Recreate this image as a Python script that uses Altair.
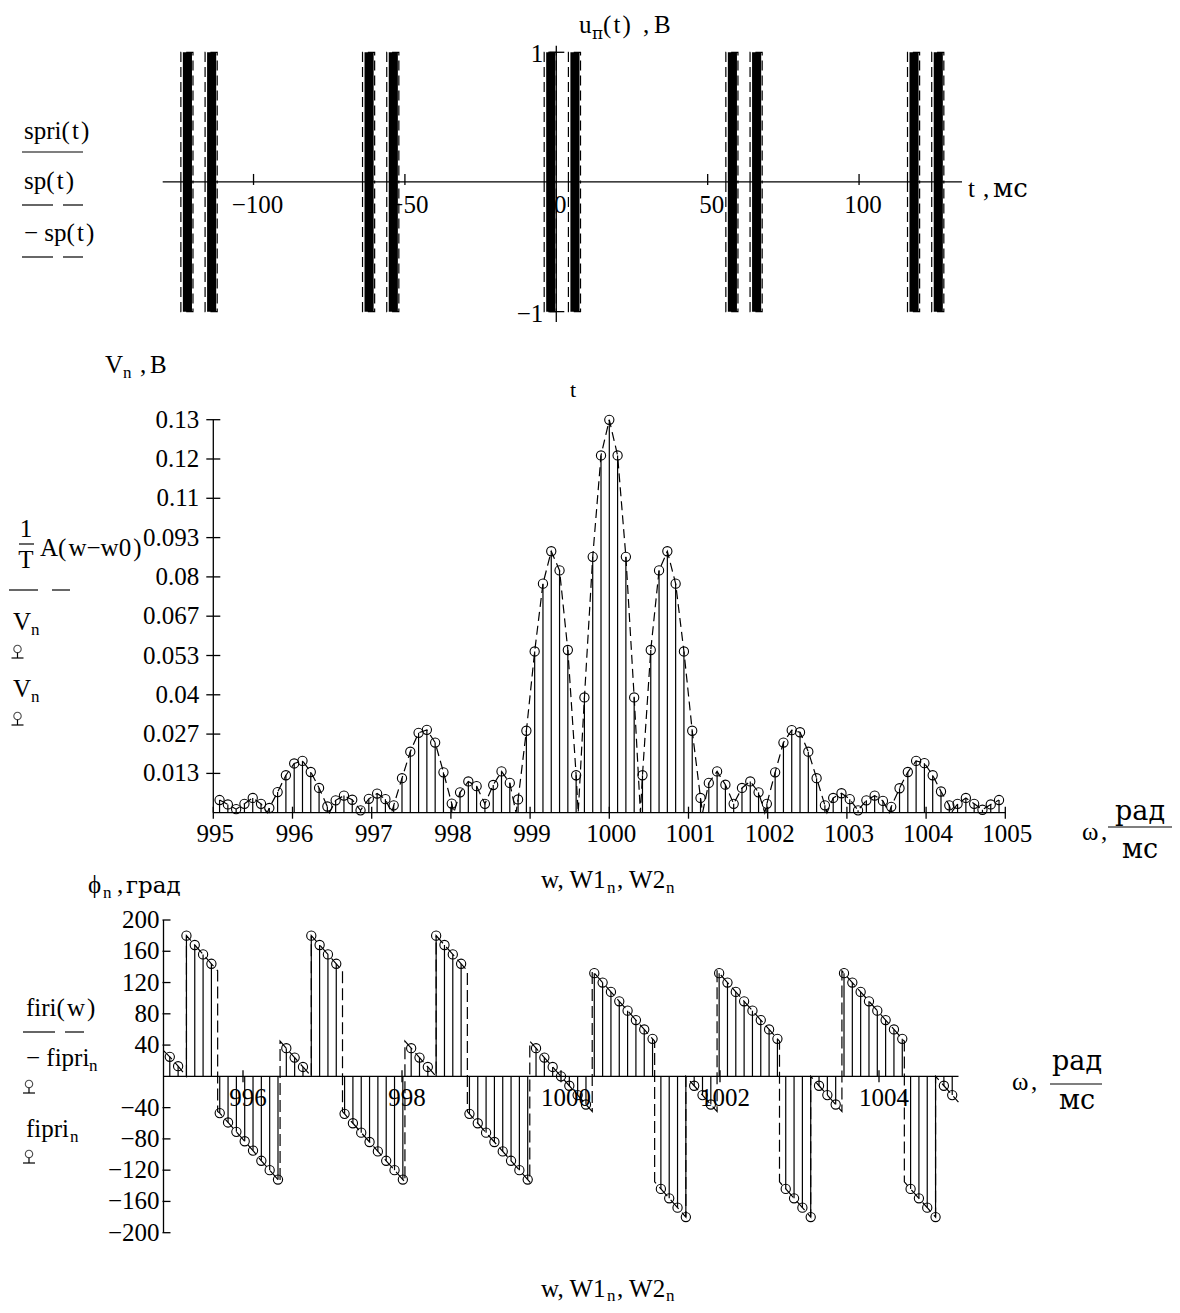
import altair as alt
import pandas as pd

SERIF = "Liberation Serif"
CYR = "DejaVu Serif"
FS = 25
SUB = 17
PLOT_W, PLOT_H = 1164, 1297
HA = "\u200a"   # hair space (Mathcad spacing around brackets)


def P(v):
    """page pixel -> plot pixel (page has an 8px margin)"""
    return v - 8


# ---------------- data: top panel (radio pulses) ----------------
pulse_start = [-124, -116, -64, -56, -4, 4, 56, 64, 116, 124]
pulse_end = [-120, -112, -60, -52, 0, 8, 60, 68, 120, 128]
top_xticks = [-100, -50, 0, 50, 100]
top_xlabels = ["−100", "−50", "0", "50", "100"]
top_yticks = [-1, 1]
top_ylabels = ["−1", "1"]
top_xdomain = [-130, 134]
top_ydomain = [-1.08, 1.05]

# ---------------- data: middle panel (amplitude spectrum) ----------------
W0 = 1000
D_W = 0.1047
harm_n = list(range(-47, 48))
V_n = [
    0.0043, 0.0028, 0.0012, 0.0030, 0.0050, 0.0030, 0.0016, 0.0070, 0.0127, 0.0167,
    0.0176, 0.0138, 0.0084, 0.0021, 0.0042, 0.0058, 0.0044, 0.0008, 0.0047, 0.0065,
    0.0046, 0.0025, 0.0117, 0.0207, 0.0271, 0.0281, 0.0238, 0.0137, 0.0031, 0.0069,
    0.0106, 0.0090, 0.0030, 0.0094, 0.0140, 0.0101, 0.0045, 0.0278, 0.0547, 0.0777,
    0.0887, 0.0822, 0.0552, 0.0127, 0.0391, 0.0868, 0.1212, 0.1333, 0.1212, 0.0868,
    0.0391, 0.0127, 0.0552, 0.0822, 0.0887, 0.0777, 0.0547, 0.0278, 0.0050, 0.0101,
    0.0140, 0.0095, 0.0030, 0.0084, 0.0106, 0.0069, 0.0030, 0.0137, 0.0238, 0.0280,
    0.0273, 0.0207, 0.0117, 0.0025, 0.0050, 0.0066, 0.0046, 0.0008, 0.0042, 0.0058,
    0.0040, 0.0020, 0.0083, 0.0138, 0.0176, 0.0168, 0.0127, 0.0072, 0.0025, 0.0030,
    0.0050, 0.0030, 0.0010, 0.0028, 0.0043,
]
env_null_n = [-41.25, -33.75, -26.25, -18.75, -11.25, -3.75,
              3.75, 11.25, 18.75, 26.25, 33.75, 41.25]
mid_xticks = list(range(995, 1006))
mid_yticks = [0.01333, 0.02667, 0.04, 0.05333, 0.06667, 0.08, 0.09333, 0.10667, 0.12, 0.13333]
mid_ylabels = ["0.013", "0.027", "0.04", "0.053", "0.067", "0.08", "0.093", "0.11", "0.12", "0.13"]
mid_xdomain = [995, 1005]
mid_ydomain = [0, 0.13333]

# ---------------- data: bottom panel (phase spectrum, degrees) ----------------
phi_n = [
    25, 13, 180, 168, 156, 144, -47, -59, -71, -83,
    -95, -108, -120, -132, 36, 24, 12, 180, 168, 156,
    144, -48, -60, -72, -84, -96, -108, -120, -132, 36,
    24, 12, 180, 168, 156, 144, -48, -60, -72, -84,
    -96, -108, -120, -132, 36, 24, 12, 0, -12, -24,
    -36, 132, 120, 108, 96, 84, 72, 60, 48, -144,
    -156, -168, -180, -12, -24, -36, 132, 120, 108, 96,
    84, 72, 60, 48, -144, -156, -168, -180, -12, -24,
    -36, 132, 120, 108, 96, 84, 72, 60, 48, -144,
    -156, -168, -180, -12, -24,
]
phase_jump_n = [-45, -41.25, -33.75, -30, -26.25, -18.75, -15, -11.25, -3.75,
                3.75, 11.25, 15, 18.75, 26.25, 30, 33.75, 41.25, 45]
phase_jump_from = [0, 135, -135, 0, 135, -135, 0, 135, -135,
                   -45, 45, -180, -45, 45, -180, -45, 45, -180]
phase_jump_to = [180, -45, 45, 180, -45, 45, 180, -45, 45,
                 135, -135, 0, 135, -135, 0, 135, -135, 0]
phase_edge_n = [-47.75, 47.75]
phase_edge_val = [33, -33]
bot_xticks = [996, 998, 1000, 1002, 1004]
bot_xlabels = ["996", "998", "1000", "1002", "1004"]
bot_yticks = [200, 160, 120, 80, 40, -40, -80, -120, -160, -200]
bot_ylabels = ["200", "160", "120", "80", "40", "−40", "−80", "−120", "−160", "−200"]
bot_xdomain = [995, 1005]
bot_ydomain = [-200, 200]

# ---------------- scales (pixel ranges on one canvas) ----------------
def sc(domain, rng):
    return alt.Scale(domain=domain, range=rng, nice=False, zero=False)

TX = sc(top_xdomain, [P(162.7), P(962)])
TY = sc(top_ydomain, [P(322), P(45.8)])
MX = sc(mid_xdomain, [P(213.3), P(1005.3)])
MY = sc(mid_ydomain, [P(812.7), P(419.7)])
BX = sc(bot_xdomain, [P(163.5), P(958.5)])
BY = sc(bot_ydomain, [P(1232.7), P(920)])

one = pd.DataFrame({"k": [0]})


def X(f, s):
    return alt.X(f, type="quantitative", scale=s, axis=None)


def Y(f, s):
    return alt.Y(f, type="quantitative", scale=s, axis=None)


def txt(text, x, y, size=FS, align="left", baseline="alphabetic", font=SERIF):
    return alt.Chart(one).mark_text(
        text=text, align=align, baseline=baseline, fontSize=size, font=font, color="black"
    ).encode(x=alt.value(P(x)), y=alt.value(P(y)))


def seg(x1, x2, y, dash=None, w=1.2):
    kw = dict(color="black", strokeWidth=w)
    if dash:
        kw["strokeDash"] = dash
    return alt.Chart(one).mark_rule(**kw).encode(
        x=alt.value(P(x1)), x2=alt.value(P(x2)), y=alt.value(P(y)))


def vseg(x, y1, y2, w=1.2):
    return alt.Chart(one).mark_rule(color="black", strokeWidth=w).encode(
        x=alt.value(P(x)), y=alt.value(P(y1)), y2=alt.value(P(y2)))


def stem_symbol(x, y):
    c = alt.Chart(one).mark_point(shape="circle", filled=False, color="black",
                                  size=55, strokeWidth=1.1).encode(
        x=alt.value(P(x)), y=alt.value(P(y)))
    return [c, vseg(x, y + 3.5, y + 9, 1.2), seg(x - 6, x + 6, y + 9, None, 1.2)]


# ================= TOP PANEL =================
pulses = pd.DataFrame({"s": pulse_start, "e": pulse_end, "lo": -1, "hi": 1})
env_rows = []
for i, (s, e) in enumerate(zip(pulse_start, pulse_end)):
    for sign, name in [(1, "sp"), (-1, "msp")]:
        for j, (tt, vv) in enumerate([(s, 0), (s, sign), (e, sign), (e, 0)]):
            env_rows.append({"t": tt, "v": vv, "g": f"{name}{i}", "o": j})
env_top = pd.DataFrame(env_rows)
txt_top = pd.DataFrame({"t": top_xticks, "lab": top_xlabels, "y0": 0})
ytk_top = pd.DataFrame({"v": top_yticks, "lab": top_ylabels, "x0": 0})
xtk_top = pd.DataFrame({"t": [t for t in top_xticks if t != 0], "y0": 0})

top_layers = [
    alt.Chart(txt_top).mark_text(font=SERIF, fontSize=FS, baseline="top", dy=11, dx=4,
                                 color="black").encode(
        x=X("t", TX), y=Y("y0", TY), text="lab:N"),
    alt.Chart(ytk_top).mark_text(font=SERIF, fontSize=FS, align="right", baseline="middle",
                                 dx=-13, dy=2, color="black").encode(
        x=X("x0", TX), y=Y("v", TY), text="lab:N"),
    alt.Chart(pulses).mark_rect(color="black", xOffset=2, x2Offset=-1).encode(
        x=X("s", TX), x2="e", y=Y("lo", TY), y2="hi"),
    alt.Chart(env_top).mark_line(color="black", strokeWidth=1.2, strokeDash=[10, 5]).encode(
        x=X("t", TX), y=Y("v", TY), detail="g:N", order="o:Q"),
    alt.Chart(pd.DataFrame({"a": [top_xdomain[0]], "b": [top_xdomain[1]], "y0": [0]}))
    .mark_rule(color="black", strokeWidth=1.3).encode(x=X("a", TX), x2="b", y=Y("y0", TY)),
    alt.Chart(pd.DataFrame({"a": [top_ydomain[0]], "b": [top_ydomain[1]], "x0": [0]}))
    .mark_rule(color="black", strokeWidth=1.3).encode(y=Y("a", TY), y2="b", x=X("x0", TX)),
    alt.Chart(xtk_top).mark_rule(color="black", strokeWidth=1.3, yOffset=3, y2Offset=-8).encode(
        x=X("t", TX), y=Y("y0", TY), y2="y0"),
    alt.Chart(ytk_top).mark_rule(color="black", strokeWidth=1.3, xOffset=-8, x2Offset=8).encode(
        x=X("x0", TX), x2="x0", y=Y("v", TY)),
]
top_panel = alt.layer(*top_layers)

# ================= MIDDLE PANEL =================
mid_df = pd.DataFrame({"w": [W0 + n * D_W for n in harm_n], "v": V_n, "z": 0})
env_pts = sorted([(n, v) for n, v in zip(harm_n, V_n)] + [(n, 0.0) for n in env_null_n])
env_mid = pd.DataFrame({"w": [W0 + n * D_W for n, _ in env_pts],
                        "v": [v for _, v in env_pts],
                        "o": list(range(len(env_pts)))})
mxt = pd.DataFrame({"w": mid_xticks, "lab": [str(v) for v in mid_xticks], "y0": 0})
myt = pd.DataFrame({"v": mid_yticks, "lab": mid_ylabels, "x0": mid_xdomain[0]})

mid_layers = [
    alt.Chart(mxt).mark_text(font=SERIF, fontSize=FS, baseline="top", dy=9, dx=2,
                             color="black").encode(
        x=X("w", MX), y=Y("y0", MY), text="lab:N"),
    alt.Chart(myt).mark_text(font=SERIF, fontSize=FS, align="right", baseline="middle", dx=-14,
                             color="black").encode(
        x=X("x0", MX), y=Y("v", MY), text="lab:N"),
    alt.Chart(mid_df).mark_rule(color="black", strokeWidth=1.2).encode(
        x=X("w", MX), y=Y("z", MY), y2="v"),
    alt.Chart(env_mid).mark_line(color="black", strokeWidth=1.2, strokeDash=[9, 5]).encode(
        x=X("w", MX), y=Y("v", MY), order="o:Q"),
    alt.Chart(mid_df).mark_point(shape="circle", filled=False, color="black", size=85,
                                 strokeWidth=1.1, opacity=1).encode(
        x=X("w", MX), y=Y("v", MY)),
    alt.Chart(pd.DataFrame({"a": [mid_xdomain[0]], "b": [mid_xdomain[1]], "y0": [0]}))
    .mark_rule(color="black", strokeWidth=1.3).encode(x=X("a", MX), x2="b", y=Y("y0", MY)),
    alt.Chart(pd.DataFrame({"a": [mid_ydomain[0]], "b": [mid_ydomain[1]], "x0": [mid_xdomain[0]]}))
    .mark_rule(color="black", strokeWidth=1.3).encode(y=Y("a", MY), y2="b", x=X("x0", MX)),
    alt.Chart(mxt).mark_rule(color="black", strokeWidth=1.3, yOffset=6, y2Offset=-6).encode(
        x=X("w", MX), y=Y("y0", MY), y2="y0"),
    alt.Chart(myt).mark_rule(color="black", strokeWidth=1.3, xOffset=-7, x2Offset=7).encode(
        x=X("x0", MX), x2="x0", y=Y("v", MY)),
]
mid_panel = alt.layer(*mid_layers)

# ================= BOTTOM PANEL =================
bot_df = pd.DataFrame({"w": [W0 + n * D_W for n in harm_n], "v": phi_n, "z": 0})
path = [(phase_edge_n[0], 0, phase_edge_val[0])]
path += [(n, 1, v) for n, v in zip(harm_n, phi_n)]
for n, a, b in zip(phase_jump_n, phase_jump_from, phase_jump_to):
    path += [(n, 0, a), (n, 2, b)]
path += [(phase_edge_n[1], 0, phase_edge_val[1])]
path.sort(key=lambda r: (r[0], r[1]))
env_bot = pd.DataFrame({"w": [W0 + n * D_W for n, _, _ in path],
                        "v": [v for _, _, v in path],
                        "o": list(range(len(path)))})
bxt = pd.DataFrame({"w": bot_xticks, "lab": bot_xlabels, "y0": 0})
byt = pd.DataFrame({"v": bot_yticks, "lab": bot_ylabels, "x0": bot_xdomain[0]})

bot_layers = [
    alt.Chart(bxt).mark_text(font=SERIF, fontSize=FS, baseline="top", dy=10, dx=5,
                             color="black").encode(
        x=X("w", BX), y=Y("y0", BY), text="lab:N"),
    alt.Chart(byt).mark_text(font=SERIF, fontSize=FS, align="right", baseline="middle", dx=-4,
                             color="black").encode(
        x=X("x0", BX), y=Y("v", BY), text="lab:N"),
    alt.Chart(bot_df).mark_rule(color="black", strokeWidth=1.2).encode(
        x=X("w", BX), y=Y("z", BY), y2="v"),
    alt.Chart(env_bot).mark_line(color="black", strokeWidth=1.2, strokeDash=[12, 5]).encode(
        x=X("w", BX), y=Y("v", BY), order="o:Q"),
    alt.Chart(bot_df).mark_point(shape="circle", filled=False, color="black", size=85,
                                 strokeWidth=1.1, opacity=1).encode(
        x=X("w", BX), y=Y("v", BY)),
    alt.Chart(pd.DataFrame({"a": [bot_xdomain[0]], "b": [bot_xdomain[1]], "y0": [0]}))
    .mark_rule(color="black", strokeWidth=1.3).encode(x=X("a", BX), x2="b", y=Y("y0", BY)),
    alt.Chart(pd.DataFrame({"a": [bot_ydomain[0]], "b": [bot_ydomain[1]], "x0": [bot_xdomain[0]]}))
    .mark_rule(color="black", strokeWidth=1.3).encode(y=Y("a", BY), y2="b", x=X("x0", BX)),
    alt.Chart(bxt).mark_rule(color="black", strokeWidth=1.3, yOffset=6, y2Offset=-6).encode(
        x=X("w", BX), y=Y("y0", BY), y2="y0"),
    alt.Chart(byt).mark_rule(color="black", strokeWidth=1.3, xOffset=-1, x2Offset=7).encode(
        x=X("x0", BX), x2="x0", y=Y("v", BY)),
]
bot_panel = alt.layer(*bot_layers)

# ================= TEXT / LEGEND ANNOTATIONS =================
ann = []
# top
ann += [txt("u", 579, 33), txt("п", 592, 39, SUB, font=CYR),
        txt(f"({HA}t{HA})", 603, 33), txt(",", 643, 33), txt("В", 654, 33)]
ann += [txt("t", 968, 197), txt(",", 983, 197), txt("мс", 993, 197, 26, font=CYR)]
ann += [txt("t", 573, 397, 22, "center")]
ann += [txt(f"spri({HA}t{HA})", 24, 139), seg(22, 83, 152)]
ann += [txt(f"sp({HA}t{HA})", 24, 189), seg(22, 53, 205), seg(63, 83, 205)]
ann += [txt(f"− sp({HA}t{HA})", 24, 241), seg(22, 53, 257), seg(63, 83, 257)]
# middle
ann += [txt("V", 105, 373), txt("n", 123, 378, SUB), txt(",", 140, 373), txt("В", 150, 373)]
ann += [txt("1", 26, 537, FS, "center"), seg(19, 34, 544), txt("T", 26, 568, FS, "center"),
        txt(f"A({HA}w−w0{HA})", 40, 556)]
ann += [seg(9, 38, 590), seg(52, 70, 590)]
ann += [txt("V", 13, 630), txt("n", 31, 635, SUB)]
ann += stem_symbol(17.5, 649)
ann += [txt("V", 13, 697), txt("n", 31, 702, SUB)]
ann += stem_symbol(17.5, 716)
ann += [txt("ω", 1082, 840), txt(",", 1101, 840),
        txt("рад", 1140, 820, 27, "center", font=CYR), seg(1108, 1172, 827, None, 1.2),
        txt("мс", 1140, 858, 27, "center", font=CYR)]
ann += [txt("w, W1", 541, 888), txt("n", 607, 893, SUB), txt(", W2", 617, 888),
        txt("n", 666, 893, SUB)]
# bottom
ann += [txt("ϕ", 88, 893), txt("n", 103, 898, SUB), txt(",", 117, 893),
        txt("град", 126, 893, 23, font=CYR)]
ann += [txt(f"firi({HA}w{HA})", 26, 1016), seg(23, 55, 1032), seg(65, 84, 1032)]
ann += [txt("− fipri", 26, 1066), txt("n", 89, 1071, SUB)]
ann += stem_symbol(29, 1084)
ann += [txt("fipri", 26, 1137), txt("n", 70, 1142, SUB)]
ann += stem_symbol(29, 1154)
ann += [txt("ω", 1012, 1090), txt(",", 1031, 1090),
        txt("рад", 1077, 1070, 27, "center", font=CYR), seg(1050, 1102, 1084, None, 1.2),
        txt("мс", 1077, 1109, 27, "center", font=CYR)]
ann += [txt("w, W1", 541, 1297), txt("n", 607, 1301, SUB), txt(", W2", 617, 1297),
        txt("n", 666, 1301, SUB)]

chart = alt.layer(top_panel, mid_panel, bot_panel, *ann).resolve_scale(
    x="independent", y="independent"
).properties(
    width=PLOT_W, height=PLOT_H, padding=0,
    autosize=alt.AutoSizeParams(type="none"),
    background="white",
).configure_view(strokeWidth=0)

chart.save("out.html", embed_options={"renderer": "svg", "actions": False})
